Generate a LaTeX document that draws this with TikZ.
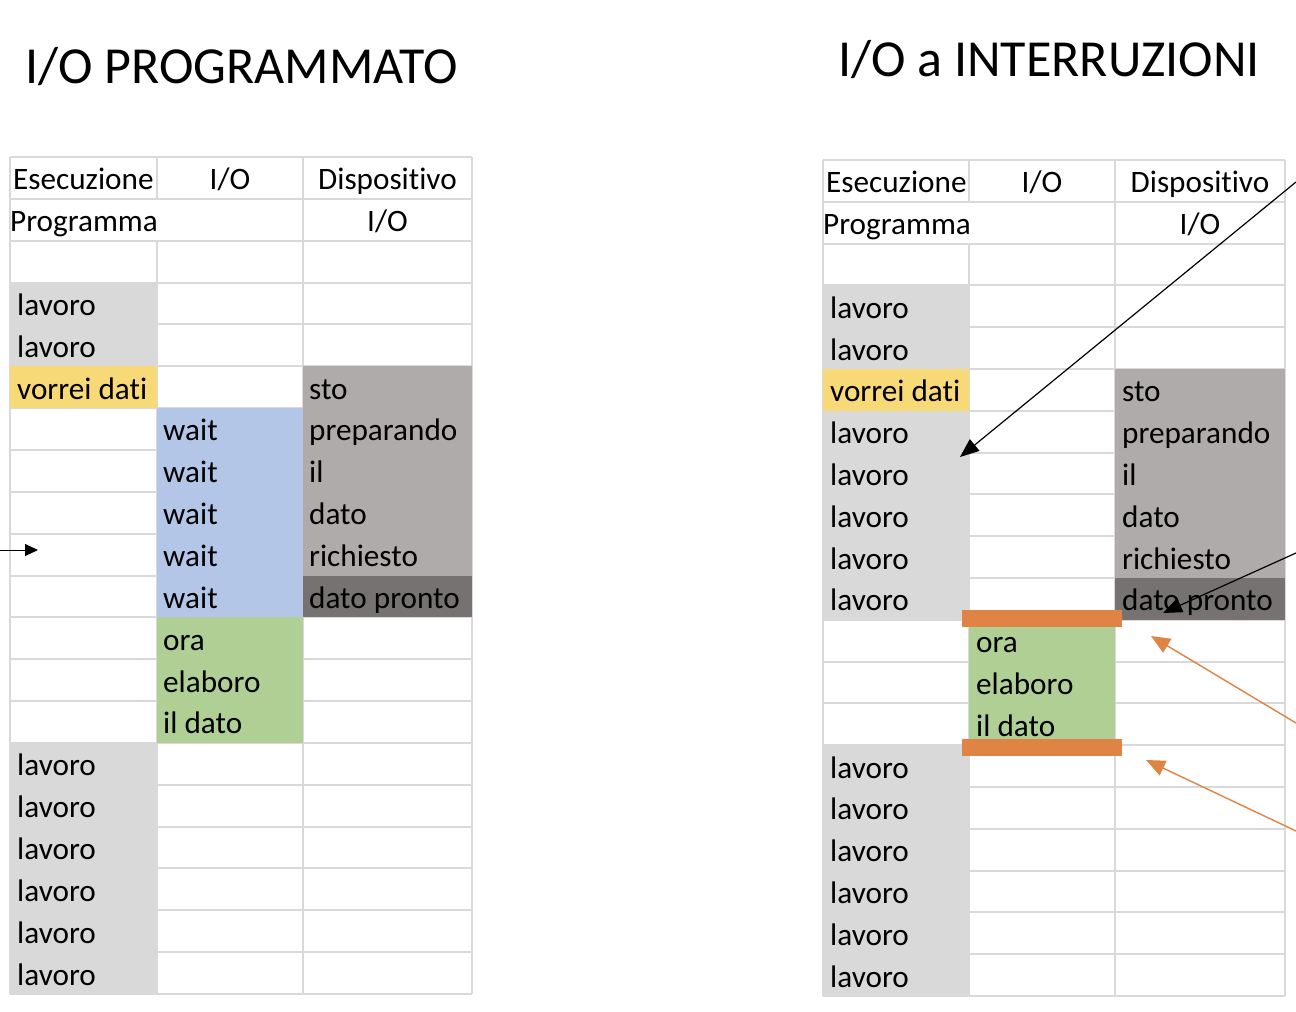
\documentclass[tikz,border=0pt]{standalone}
\usepackage{fontspec}
\setmainfont{Carlito}[Ligatures=NoCommon]
\usetikzlibrary{arrows.meta}

\definecolor{gridc}{HTML}{D9D9D9}
\definecolor{work}{HTML}{D9D9D9}
\definecolor{ask}{HTML}{F8D978}
\definecolor{waitc}{HTML}{B4C6E7}
\definecolor{elab}{HTML}{B0CF95}
\definecolor{devbusy}{HTML}{AEABAA}
\definecolor{devready}{HTML}{767272}
\definecolor{irq}{HTML}{DF8445}

\tikzset{
  cell/.style={anchor=base west, inner sep=0pt, font=\fontsize{31.2}{36}\selectfont},
  cellc/.style={anchor=base, inner sep=0pt, font=\fontsize{31.2}{36}\selectfont},
  title/.style={anchor=base west, inner sep=0pt, font=\fontsize{52}{60}\selectfont},
  gridline/.style={draw=gridc, line width=2pt},
  pointer/.style={line width=1.2pt, -{Triangle[length=19pt,width=15pt]}},
  irqpointer/.style={draw=irq, line width=1.4pt, -{Triangle[length=19pt,width=16pt]}},
}

\begin{document}
\begin{tikzpicture}[x=1pt,y=-1pt]
\useasboundingbox[fill=white] (0,0) rectangle (1296,1012);

% ---------- titles ----------
\node[title] (tprog) at (25,83) {I/O PROGRAMMATO};
\node[title] (tint) at (838,76) {I/O a INTERRUZIONI};

% ---------- left table: programmed I/O ----------
\def\Ltop{157}\def\Lh{41.85}
% grid
\foreach \r in {0,...,20}
  \draw[gridline] (10,{\Ltop+\r*\Lh}) -- (472,{\Ltop+\r*\Lh});
\foreach \x in {10,303,472}
  \draw[gridline] (\x,\Ltop) -- (\x,{\Ltop+20*\Lh});
\draw[gridline] (157,\Ltop) -- (157,{\Ltop+\Lh});
\draw[gridline] (157,{\Ltop+2*\Lh}) -- (157,{\Ltop+20*\Lh});
% coloured cells
\fill[work] (10,{\Ltop+3*\Lh}) rectangle (157,{\Ltop+5*\Lh});
\fill[ask] (10,{\Ltop+5*\Lh}) rectangle (157,{\Ltop+6*\Lh});
\fill[work] (10,{\Ltop+14*\Lh}) rectangle (157,{\Ltop+20*\Lh+1});
\fill[waitc] (157,{\Ltop+6*\Lh}) rectangle (303,{\Ltop+11*\Lh});
\fill[elab] (157,{\Ltop+11*\Lh}) rectangle (303,{\Ltop+14*\Lh});
\fill[devbusy] (303,{\Ltop+5*\Lh}) rectangle (472,{\Ltop+10*\Lh});
\fill[devready] (303,{\Ltop+10*\Lh}) rectangle (472,{\Ltop+11*\Lh});
% header text
\node[cell] (Lh1) at (13,{\Ltop+1*\Lh-9}) {Esecuzione};
\node[cellc] (Lh2) at (230,{\Ltop+1*\Lh-9}) {I/O};
\node[cellc] (Lh3) at (387.5,{\Ltop+1*\Lh-9}) {Dispositivo};
\node[cell] (Lh4) at (10,{\Ltop+2*\Lh-9}) {Programma};
\node[cellc] (Lh5) at (387.5,{\Ltop+2*\Lh-9}) {I/O};
% program column
\foreach \r/\t in {3/lavoro,4/lavoro,5/vorrei dati,14/lavoro,15/lavoro,16/lavoro,17/lavoro,18/lavoro,19/lavoro}
  \node[cell] (Lp\r) at (17,{\Ltop+(\r+1)*\Lh-9}) {\t};
% I/O column
\foreach \r/\t in {6/wait,7/wait,8/wait,9/wait,10/wait,11/ora,12/elaboro,13/il dato}
  \node[cell] (Lio\r) at (163,{\Ltop+(\r+1)*\Lh-9}) {\t};
% device column
\foreach \r/\t in {5/sto,6/preparando,7/il,8/dato,9/richiesto,10/dato pronto}
  \node[cell] (Ld\r) at (309,{\Ltop+(\r+1)*\Lh-9}) {\t};
% pointer into the busy-wait loop
\coordinate (Lin) at (0,550);
\coordinate (Lwait) at (38,550);
\draw[line width=1pt, -{Triangle[length=13pt,width=12pt]}] (Lin) -- (Lwait);

% ---------- right table: interrupt-driven I/O ----------
\def\Rtop{160}\def\Rh{41.8}
% grid
\foreach \r in {0,...,20}
  \draw[gridline] (823,{\Rtop+\r*\Rh}) -- (1285,{\Rtop+\r*\Rh});
\foreach \x in {823,1115,1285}
  \draw[gridline] (\x,\Rtop) -- (\x,{\Rtop+20*\Rh});
\draw[gridline] (969,\Rtop) -- (969,{\Rtop+\Rh});
\draw[gridline] (969,{\Rtop+2*\Rh}) -- (969,{\Rtop+20*\Rh});
% coloured cells
\fill[work] (823,{\Rtop+3*\Rh}) rectangle (969,{\Rtop+5*\Rh});
\fill[ask] (823,{\Rtop+5*\Rh}) rectangle (969,{\Rtop+6*\Rh});
\fill[work] (823,{\Rtop+6*\Rh}) rectangle (969,{\Rtop+11*\Rh});
\fill[work] (823,{\Rtop+14*\Rh}) rectangle (969,{\Rtop+20*\Rh+1});
\fill[elab] (969,{\Rtop+11*\Rh}) rectangle (1115,{\Rtop+14*\Rh});
\fill[devbusy] (1115,{\Rtop+5*\Rh}) rectangle (1285,{\Rtop+10*\Rh});
\fill[devready] (1115,{\Rtop+10*\Rh}) rectangle (1285,{\Rtop+11*\Rh});
% header text
\node[cell] (Rh1) at (826,{\Rtop+1*\Rh-9}) {Esecuzione};
\node[cellc] (Rh2) at (1042,{\Rtop+1*\Rh-9}) {I/O};
\node[cellc] (Rh3) at (1200,{\Rtop+1*\Rh-9}) {Dispositivo};
\node[cell] (Rh4) at (823,{\Rtop+2*\Rh-9}) {Programma};
\node[cellc] (Rh5) at (1200,{\Rtop+2*\Rh-9}) {I/O};
% program column
\foreach \r/\t in {3/lavoro,4/lavoro,5/vorrei dati,6/lavoro,7/lavoro,8/lavoro,9/lavoro,10/lavoro,14/lavoro,15/lavoro,16/lavoro,17/lavoro,18/lavoro,19/lavoro}
  \node[cell] (Rp\r) at (830,{\Rtop+(\r+1)*\Rh-9}) {\t};
% I/O column
\foreach \r/\t in {11/ora,12/elaboro,13/il dato}
  \node[cell] (Rio\r) at (976,{\Rtop+(\r+1)*\Rh-9}) {\t};
% device column
\foreach \r/\t in {5/sto,6/preparando,7/il,8/dato,9/richiesto,10/dato pronto}
  \node[cell] (Rd\r) at (1122,{\Rtop+(\r+1)*\Rh-9}) {\t};
% interrupt boundaries
\fill[irq] (962,610) rectangle (1122,627);
\fill[irq] (962,739) rectangle (1122,756);

% ---------- pointers on the right ----------
\coordinate (Rin1) at (1296,182);
\coordinate (Rwork) at (960,457);
\draw[pointer] (Rin1) -- (Rwork);
\coordinate (Rin2) at (1296,553);
\coordinate (Rready) at (1163,613);
\draw[pointer] (Rin2) -- (Rready);
\coordinate (Rin3) at (1296,723);
\coordinate (Rirq1) at (1151,636);
\draw[irqpointer] (Rin3) -- (Rirq1);
\coordinate (Rin4) at (1296,831);
\coordinate (Rirq2) at (1146,760);
\draw[irqpointer] (Rin4) -- (Rirq2);
\end{tikzpicture}
\end{document}
